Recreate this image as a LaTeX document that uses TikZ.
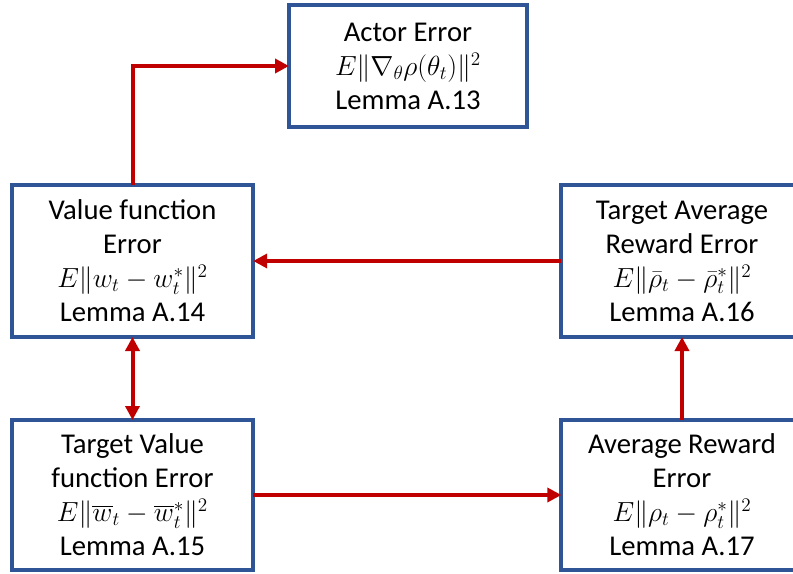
\documentclass[tikz,border=0pt]{standalone}
\usepackage{amsmath}
\usepackage{fontspec}
\setmainfont{Carlito}
\usetikzlibrary{arrows.meta}
\definecolor{boxblue}{RGB}{47,85,151}
\definecolor{arrred}{RGB}{192,0,0}
\newcommand{\mathline}[1]{{\fontsize{22}{25.5}\selectfont$#1$}}
\tikzset{
  errbox/.style={draw=boxblue, line width=3pt, fill=white, align=center,
    inner sep=0pt, outer sep=0pt, minimum width=181pt,
    font=\fontsize{21.5}{25.5}\selectfont},
  midbox/.style={errbox, minimum height=114pt},
  topbox/.style={errbox, minimum width=178.5pt, minimum height=91.5pt},
  link/.style={draw=arrred, line width=3pt,
    -{Triangle[length=10.5pt,width=10.5pt]}},
  duallink/.style={draw=arrred, line width=3pt,
    {Triangle[length=10.5pt,width=10.5pt]}-{Triangle[length=10.5pt,width=10.5pt]}}
}
\begin{document}
\begin{tikzpicture}[x=0.75pt,y=-0.75pt]
\clip (0,0) rectangle (793,574);
\fill[white] (0,0) rectangle (793,574);
\node[topbox] (actor) at (408,66) {Actor Error\\\mathline{E\lVert\nabla_\theta\rho(\theta_t)\rVert^2}\\Lemma A.13};
\node[midbox] (value) at (132.5,261) {Value function\\Error\\\mathline{E\lVert w_t - w_t^*\rVert^2}\\Lemma A.14};
\node[midbox] (tavg) at (682,261) {Target Average\\Reward Error\\\mathline{E\lVert \bar\rho_t - \bar\rho_t^*\rVert^2}\\Lemma A.16};
\node[midbox, minimum height=112.5pt] (tval) at (132.5,495) {Target Value\\function Error\\\mathline{E\lVert \overline{w}_t - \overline{w}_t^*\rVert^2}\\Lemma A.15};
\node[midbox, minimum height=112.5pt] (avg) at (682,495) {Average Reward\\Error\\\mathline{E\lVert \rho_t - \rho_t^*\rVert^2}\\Lemma A.17};
\draw[link] (value.north) |- (actor.west);
\draw[link] (tavg.west) -- (value.east);
\draw[duallink] (value.south) -- (tval.north);
\draw[link] (tval.east) -- (avg.west);
\draw[link] (avg.north) -- (tavg.south);
\end{tikzpicture}
\end{document}
